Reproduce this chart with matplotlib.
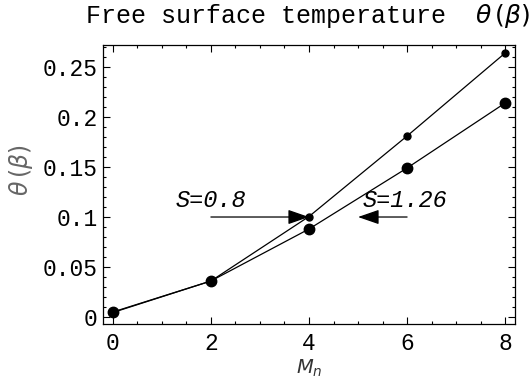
import matplotlib

matplotlib.use("Agg")
import matplotlib.pyplot as plt
from matplotlib.ticker import MultipleLocator

# data
mn = [0, 2, 4, 6, 8]
theta_s08 = [0.0045, 0.036, 0.1005, 0.181, 0.264]
theta_s126 = [0.005, 0.036, 0.088, 0.149, 0.214]
xticks = [0, 2, 4, 6, 8]
yticks = [0, 0.05, 0.1, 0.15, 0.2, 0.25]
ytick_labels = ["0", "0.05", "0.1", "0.15", "0.2", "0.25"]

mono = "Liberation Mono"

fig = plt.figure(figsize=(5.32, 3.83), dpi=100)
ax = fig.add_axes([0.1936, 0.154, 0.7744, 0.7285])

ax.plot(mn, theta_s08, "-o", color="black", lw=0.9, ms=5)
ax.plot(mn, theta_s126, "-o", color="black", lw=0.9, ms=7.5)

arrow = dict(arrowstyle="-|>,head_length=1.3,head_width=0.45", color="black",
             lw=0.9, shrinkA=0, shrinkB=0)
ax.annotate("", xy=(4, 0.1), xytext=(2, 0.1), arrowprops=arrow)
ax.annotate("", xy=(5.0, 0.1), xytext=(6, 0.1), arrowprops=arrow)
ax.text(2.0, 0.117, "S=0.8", family=mono, style="italic", fontsize=17,
        ha="center", va="center")
ax.text(5.95, 0.117, "S=1.26", family=mono, style="italic", fontsize=17,
        ha="center", va="center")

ax.set_xlim(-0.2, 8.2)
ax.set_ylim(-0.007, 0.272)
ax.set_xticks(xticks)
ax.set_yticks(yticks)
ax.set_yticklabels(ytick_labels)
ax.xaxis.set_minor_locator(MultipleLocator(0.5))
ax.yaxis.set_minor_locator(MultipleLocator(0.01))
ax.tick_params(which="both", direction="in", top=True, right=True, width=0.8)
ax.tick_params(which="major", length=5)
ax.tick_params(which="minor", length=2.5)
ax.tick_params(axis="x", which="major", pad=6)
ax.tick_params(axis="y", which="major", pad=4)
for lab in ax.get_xticklabels() + ax.get_yticklabels():
    lab.set_family(mono)
    lab.set_fontsize(16.5)
for sp in ax.spines.values():
    sp.set_linewidth(0.9)

ax.set_xlabel(r"$M_n$", fontsize=14, color="#333333", va="center")
ax.xaxis.set_label_coords(0.5, -0.16)
ax.set_ylabel(r"$\theta\,(\beta)$", fontsize=17, color="#666666", labelpad=2)
ax.yaxis.set_label_coords(-0.165, 0.55)
fig.text(0.577, 0.957, r"Free surface temperature  $\theta\,(\beta)$", family=mono,
         fontsize=18, ha="center", va="center")

fig.savefig("out.png", dpi=100)
